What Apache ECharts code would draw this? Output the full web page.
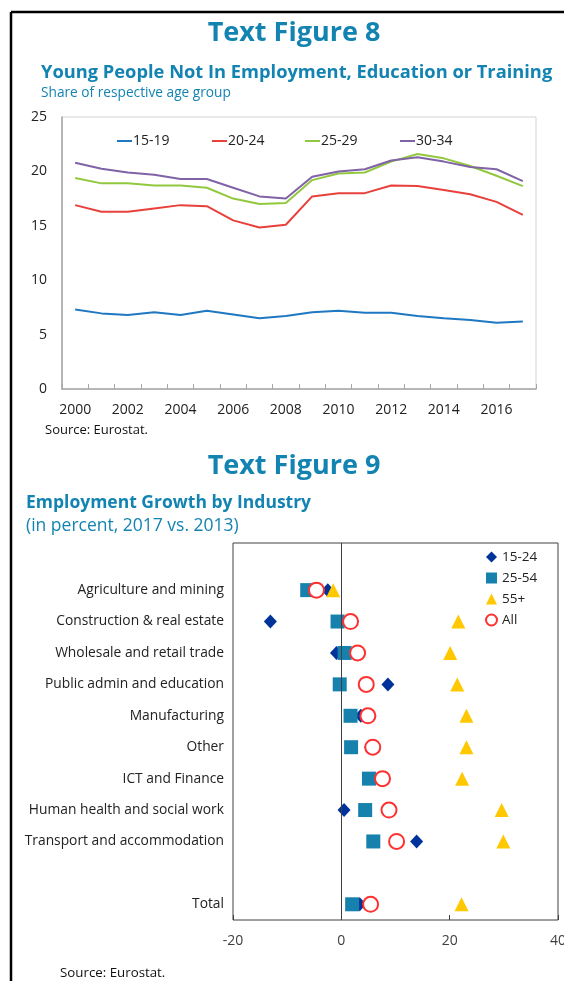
<!DOCTYPE html>
<html>
<head>
<meta charset="utf-8">
<script src="https://cdn.jsdelivr.net/npm/echarts@6/dist/echarts.min.js"></script>
<style>
html,body{margin:0;padding:0;background:#fff;}
#c{width:564px;height:981px;}
</style>
</head>
<body>
<div id="c"></div>
<script>
// ---- Figure 8 data ----
var years = ['2000','2001','2002','2003','2004','2005','2006','2007','2008','2009','2010','2011','2012','2013','2014','2015','2016','2017'];
var neet1519 = [7.3,6.95,6.8,7.05,6.8,7.2,6.85,6.5,6.7,7.05,7.2,7.0,7.0,6.7,6.5,6.35,6.1,6.2];
var neet2024 = [16.9,16.3,16.3,16.6,16.9,16.8,15.5,14.85,15.1,17.7,18.0,18.0,18.7,18.65,18.3,17.9,17.2,16.0];
var neet2529 = [19.4,18.9,18.9,18.7,18.7,18.5,17.5,17.0,17.1,19.2,19.8,19.9,20.9,21.6,21.2,20.5,19.6,18.65];
var neet3034 = [20.8,20.25,19.9,19.7,19.3,19.3,18.5,17.7,17.5,19.5,20.0,20.2,21.0,21.3,20.9,20.4,20.2,19.1];
var seriesNames8 = ['15-19','20-24','25-29','30-34'];
var yTicks8 = [0,5,10,15,20,25];

// ---- Figure 9 data ----
var categories9 = ['', 'Agriculture and mining','Construction & real estate','Wholesale and retail trade','Public admin and education','Manufacturing','Other','ICT and Finance','Human health and social work','Transport and accommodation',' ','Total'];
var rows9 = ['Agriculture and mining','Construction & real estate','Wholesale and retail trade','Public admin and education','Manufacturing','Other','ICT and Finance','Human health and social work','Transport and accommodation','Total'];
var grow1524 = [-2.5,-13.1,-0.9,8.6,3.6,5.4,7.9,0.5,13.9,3.4];
var grow2554 = [-6.3,-0.7,0.6,-0.3,1.7,1.8,5.1,4.4,5.9,2.0];
var grow55 = [-1.5,21.6,20.1,21.4,23.1,23.1,22.3,29.6,29.9,22.2];
var growAll = [-4.6,1.7,3.0,4.6,4.9,5.8,7.6,8.8,10.2,5.4];
var xTicks9 = [-20,0,20,40];

function pairs(vals){ return vals.map(function(v,i){ return [v, rows9[i]]; }); }

var FONT = '"Open Sans", "Noto Sans", sans-serif';
var TEAL = '#1384B2';
var chart = echarts.init(document.getElementById('c'), null, {renderer:'canvas'});

var legendLefts8 = [112, 207, 300, 395];
var legends8 = seriesNames8.map(function(n, i){
  return {
    left: legendLefts8[i], top:129, orient:'horizontal',
    itemWidth:15, itemHeight:2, icon:'rect',
    textStyle:{fontSize:14, color:'#222', fontFamily:FONT, padding:[0,0,0,-4]},
    data:[n]
  };
});

var option = {
  animation: false,
  textStyle: {fontFamily: FONT},
  graphic: [
    {type:'line', shape:{x1:11,y1:12,x2:564,y2:12}, style:{stroke:'#000',lineWidth:2.5}},
    {type:'line', shape:{x1:11,y1:12,x2:11,y2:981}, style:{stroke:'#000',lineWidth:2.5}},
    {type:'text', x:294, y:33, style:{text:'Text Figure 8', fill:TEAL, font:'bold 27px '+FONT, textAlign:'center', textVerticalAlign:'middle'}},
    {type:'text', x:41, y:73, style:{text:'Young People Not In Employment, Education or Training', fill:TEAL, font:'bold 18.3px '+FONT, textAlign:'left', textVerticalAlign:'middle'}},
    {type:'text', x:41, y:93, style:{text:'Share of respective age group', fill:TEAL, font:'13.7px '+FONT, textAlign:'left', textVerticalAlign:'middle'}},
    {type:'text', x:45, y:430, style:{text:'Source: Eurostat.', fill:'#111', font:'13px '+FONT, textAlign:'left', textVerticalAlign:'middle'}},
    {type:'text', x:294, y:466, style:{text:'Text Figure 9', fill:TEAL, font:'bold 27px '+FONT, textAlign:'center', textVerticalAlign:'middle'}},
    {type:'text', x:26, y:503, style:{text:'Employment Growth by Industry', fill:TEAL, font:'bold 17.5px '+FONT, textAlign:'left', textVerticalAlign:'middle'}},
    {type:'text', x:26, y:526, style:{text:'(in percent, 2017 vs. 2013)', fill:TEAL, font:'17.5px '+FONT, textAlign:'left', textVerticalAlign:'middle'}},
    {type:'text', x:60, y:973, style:{text:'Source: Eurostat.', fill:'#111', font:'13.3px '+FONT, textAlign:'left', textVerticalAlign:'middle'}}
  ],
  grid: [
    {left:62, right:28, top:117, height:272, show:true, borderColor:'#d4d4d4', borderWidth:1, backgroundColor:'transparent', containLabel:false, outerBoundsMode:'none'},
    {left:233, right:6, top:543, height:377, show:true, borderColor:'#404040', borderWidth:1, backgroundColor:'transparent', containLabel:false, outerBoundsMode:'none'}
  ],
  legend: legends8.concat([
    {
      left:480, top:545, orient:'vertical', itemGap:7,
      itemWidth:11, itemHeight:11,
      textStyle:{fontSize:13.5, color:'#222', fontFamily:FONT},
      data:['15-24','25-54','55+','All']
    }
  ]),
  xAxis: [
    {
      gridIndex:0, type:'category', data:years, boundaryGap:true,
      axisLine:{lineStyle:{color:'#a6a6a6', width:1.5}},
      axisTick:{show:true, inside:true, length:5, interval:0, lineStyle:{color:'#a6a6a6'}},
      axisLabel:{interval:1, fontSize:14, color:'#222', margin:14, fontFamily:FONT},
      splitLine:{show:false}
    },
    {
      gridIndex:1, type:'value', min:xTicks9[0], max:xTicks9[xTicks9.length-1], interval:20,
      axisLine:{onZero:false, lineStyle:{color:'#404040', width:1.2}},
      axisTick:{show:true, inside:true, length:5, lineStyle:{color:'#404040'}},
      axisLabel:{fontSize:14, color:'#404040', margin:14, fontFamily:FONT},
      splitLine:{show:false}
    }
  ],
  yAxis: [
    {
      gridIndex:0, type:'value', min:yTicks8[0], max:yTicks8[yTicks8.length-1], interval:5,
      axisLine:{show:true, lineStyle:{color:'#a6a6a6', width:1.5}},
      axisTick:{show:false},
      axisLabel:{fontSize:14, color:'#222', margin:15, fontFamily:FONT},
      splitLine:{show:false}
    },
    {
      gridIndex:1, type:'category', data:categories9, inverse:true, boundaryGap:true,
      axisLine:{show:false, onZero:false},
      axisTick:{show:false},
      axisLabel:{interval:0, fontSize:13.8, color:'#222', margin:9, fontFamily:FONT},
      splitLine:{show:false}
    }
  ],
  series: [
    {name:seriesNames8[0], type:'line', xAxisIndex:0, yAxisIndex:0, data:neet1519, symbol:'none', lineStyle:{width:2, color:'#1F78C1'}, itemStyle:{color:'#1F78C1'}},
    {name:seriesNames8[1], type:'line', xAxisIndex:0, yAxisIndex:0, data:neet2024, symbol:'none', lineStyle:{width:2, color:'#E8413C'}, itemStyle:{color:'#E8413C'}},
    {name:seriesNames8[2], type:'line', xAxisIndex:0, yAxisIndex:0, data:neet2529, symbol:'none', lineStyle:{width:2, color:'#92C83E'}, itemStyle:{color:'#92C83E'}},
    {name:seriesNames8[3], type:'line', xAxisIndex:0, yAxisIndex:0, data:neet3034, symbol:'none', lineStyle:{width:2, color:'#8062A6'}, itemStyle:{color:'#8062A6'}},

    {name:'15-24', type:'scatter', xAxisIndex:1, yAxisIndex:1, data:pairs(grow1524), symbol:'diamond', symbolSize:[13,14], itemStyle:{color:'#00339A', opacity:1},
      markLine:{silent:true, symbol:'none', label:{show:false}, lineStyle:{color:'#404040', width:1, type:'solid'}, data:[{xAxis:0}]}},
    {name:'25-54', type:'scatter', xAxisIndex:1, yAxisIndex:1, data:pairs(grow2554), symbol:'rect', symbolSize:14, itemStyle:{color:'#1681AC', opacity:1}},
    {name:'55+', type:'scatter', xAxisIndex:1, yAxisIndex:1, data:pairs(grow55), symbol:'triangle', symbolSize:14, itemStyle:{color:'#FFC800', opacity:1}},
    {name:'All', type:'scatter', xAxisIndex:1, yAxisIndex:1, data:pairs(growAll), symbol:'emptyCircle', symbolSize:15, itemStyle:{color:'#FF3030', borderWidth:1.5, opacity:1}}
  ]
};
chart.setOption(option);
</script>
</body>
</html>
